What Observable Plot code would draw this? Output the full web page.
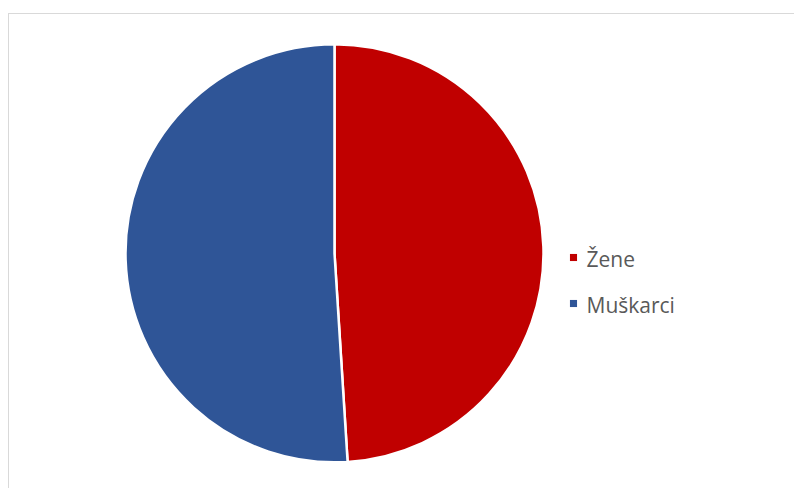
<!DOCTYPE html>
<html>
<head>
<meta charset="utf-8">
<script src="https://cdn.jsdelivr.net/npm/d3@7"></script>
<script src="https://cdn.jsdelivr.net/npm/@observablehq/plot@0.6"></script>
<style>
  html, body { margin: 0; padding: 0; background: #fff; overflow: hidden; }
  #wrap { position: relative; width: 794px; height: 488px; }
  #border { position: absolute; left: 8px; top: 13px; width: 830px; height: 530px;
            border: 1.5px solid #d9d9d9; pointer-events: none; }
  svg { display: block; }
</style>
</head>
<body>
<div id="wrap"><div id="border"></div></div>
<script>
// ---- data ----
const categories = ["Žene", "Muškarci"];
const shares = [49.0, 51.0];
const colors = ["#C00000", "#2F5597"];

// ---- layout ----
const W = 794, H = 488;
const pieCx = 334.5, pieCy = 253.3, pieR = 209;

const rows = categories.map((c, i) => ({category: c, share: shares[i]}));
const slices = d3.pie().sort(null).value(d => d.share)(rows);

function pieMark(index, scales, values, dimensions, context) {
  const arc = d3.arc().innerRadius(0).outerRadius(pieR);
  const g = d3.create("svg:g").attr("transform", `translate(${pieCx},${pieCy})`);
  g.selectAll("path").data(slices).join("path")
    .attr("d", arc)
    .attr("fill", d => scales.color(d.data.category))
    .attr("stroke", "#fff")
    .attr("stroke-width", 2.5)
    .attr("stroke-linejoin", "round");
  return g.node();
}

const chart = Plot.plot({
  width: W,
  height: H,
  margin: 0,
  style: {background: "transparent", fontFamily: "'Open Sans', sans-serif"},
  x: {axis: null},
  y: {type: "point", domain: categories, range: [257, 303], padding: 0, axis: null},
  color: {domain: categories, range: colors},
  marks: [
    pieMark,
    Plot.dot(categories, {
      y: d => d,
      fill: d => d,
      symbol: "square",
      r: 4,
      frameAnchor: "left",
      dx: 573
    }),
    Plot.text(categories, {
      y: d => d,
      text: d => d,
      frameAnchor: "left",
      textAnchor: "start",
      dx: 586,
      dy: 2.5,
      fill: "#595959",
      fontSize: 21
    })
  ]
});

document.getElementById("wrap").prepend(chart);
</script>
</body>
</html>
